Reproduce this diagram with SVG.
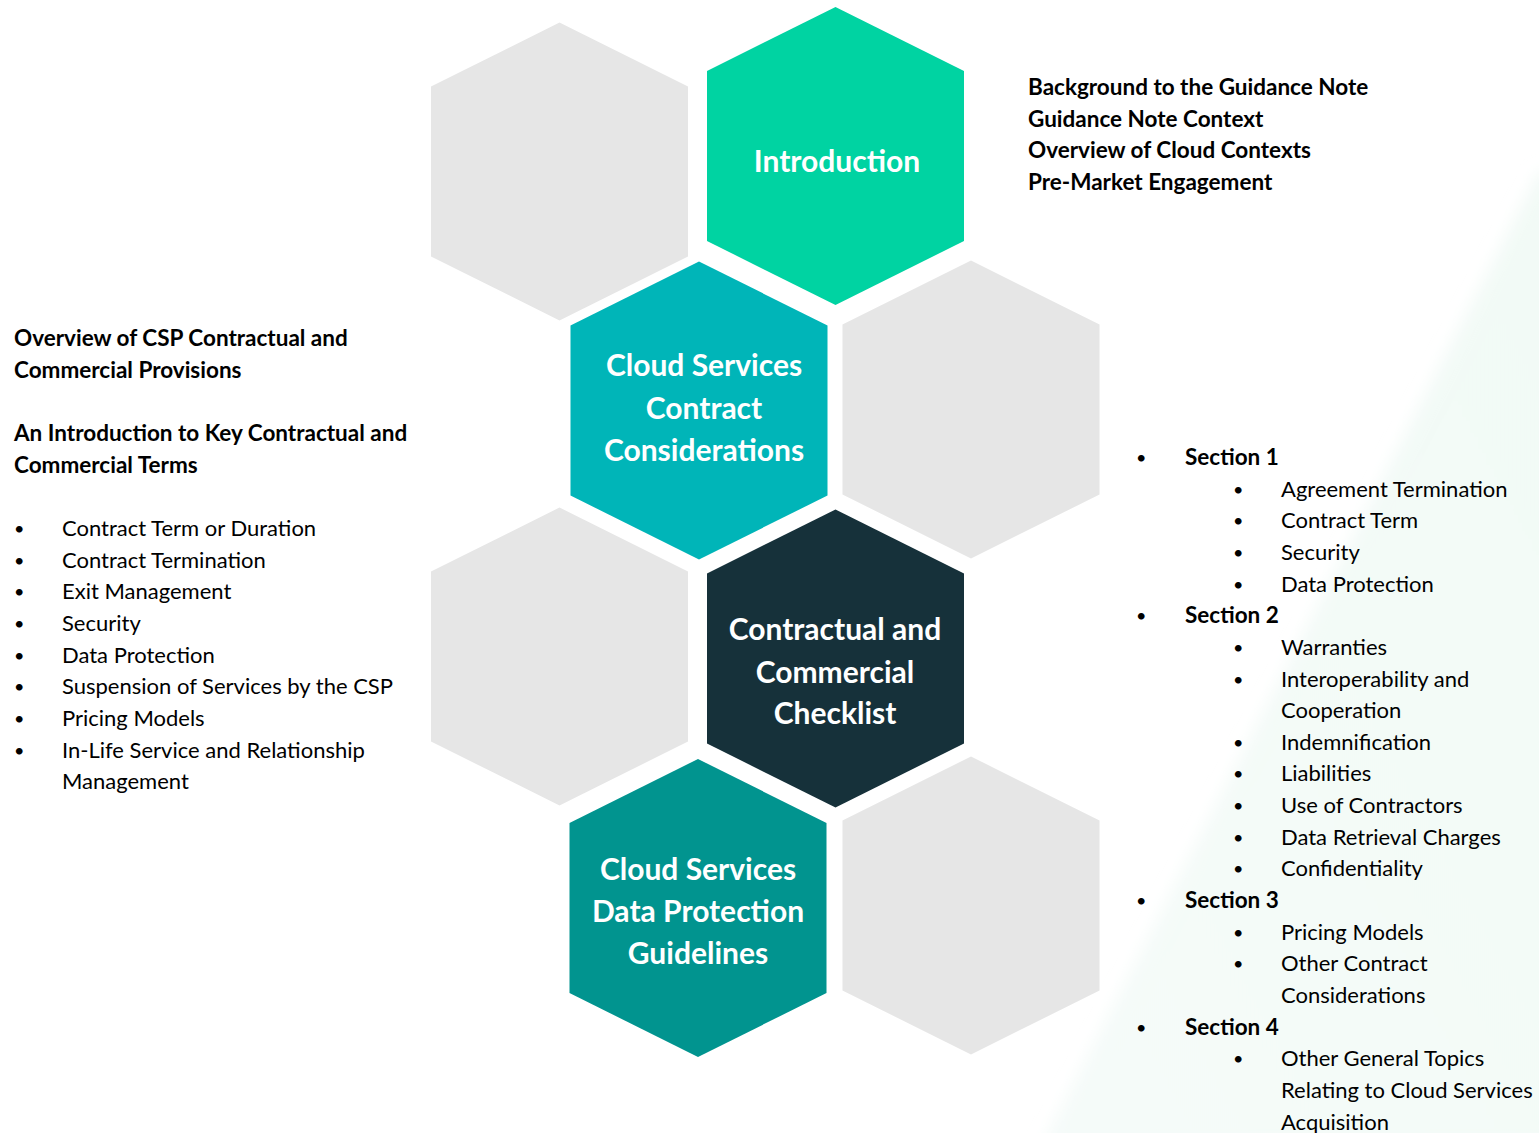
<svg xmlns="http://www.w3.org/2000/svg" width="1539" height="1133" viewBox="0 0 1539 1133">
  <defs>
    <!-- pointy-top hexagon, 257 wide and 298 tall, centred on the origin -->
    <polygon id="hex" points="0,-149 128.5,-85 128.5,85 0,149 -128.5,85 -128.5,-85"/>
    <filter id="soft" x="-10%" y="-10%" width="120%" height="120%">
      <feGaussianBlur stdDeviation="8"/>
    </filter>
    <linearGradient id="tint" x1="0" y1="1" x2="1" y2="0">
      <stop offset="0" stop-color="#f5fbf9"/>
      <stop offset="1" stop-color="#f2faf6"/>
    </linearGradient>
    <style>
      .hex-grey { fill: #e6e6e6; }
      .hex-intro { fill: #00d3a2; }
      .hex-contract { fill: #00b5b8; }
      .hex-checklist { fill: #16313a; }
      .hex-dp { fill: #01948f; }
      .label { font-family: Lato, "Liberation Sans", sans-serif; font-weight: 700; font-size: 30px; fill: #ffffff; text-anchor: middle; }
      .txt { font-family: Lato, "Liberation Sans", sans-serif; font-size: 22px; fill: #000000; }
      .b { font-weight: 700; font-size: 22.5px; }
      .dot { font-size: 18px; }
    </style>
  </defs>

  <rect width="1539" height="1133" fill="#ffffff"/>
  <!-- faint mint wash in the lower right corner -->
  <polygon points="1040,1150 1560,1150 1560,172 1539,172" fill="url(#tint)" filter="url(#soft)"/>

  <!-- connectors: none in this layout -->
  <g id="connectors"/>

  <!-- decorative grey cells -->
  <g id="hex-grey-1"><use href="#hex" class="hex-grey" transform="translate(559.5,171.5)"/></g>
  <g id="hex-grey-2"><use href="#hex" class="hex-grey" transform="translate(971,409.5)"/></g>
  <g id="hex-grey-3"><use href="#hex" class="hex-grey" transform="translate(559.5,656.5)"/></g>
  <g id="hex-grey-4"><use href="#hex" class="hex-grey" transform="translate(971,905.5)"/></g>

  <!-- section cells -->
  <g id="node-introduction">
    <use href="#hex" class="hex-intro" transform="translate(835.5,156)"/>
    <text class="label" x="837" y="172">Introduction</text>
  </g>
  <g id="node-contract-considerations">
    <use href="#hex" class="hex-contract" transform="translate(699,410.5)"/>
    <text class="label" x="704" y="376">Cloud Services</text>
    <text class="label" x="704" y="419">Contract</text>
    <text class="label" x="704" y="461">Considerations</text>
  </g>
  <g id="node-checklist">
    <use href="#hex" class="hex-checklist" transform="translate(835.5,658.5)"/>
    <text class="label" x="835" y="640">Contractual and</text>
    <text class="label" x="835" y="683">Commercial</text>
    <text class="label" x="835" y="724">Checklist</text>
  </g>
  <g id="node-data-protection">
    <use href="#hex" class="hex-dp" transform="translate(698,908)"/>
    <text class="label" x="698" y="880">Cloud Services</text>
    <text class="label" x="698" y="922">Data Protection</text>
    <text class="label" x="698" y="964">Guidelines</text>
  </g>

  <!-- introduction topics -->
  <g id="list-introduction" class="txt">
    <text class="b" x="1028" y="95">Background to the Guidance Note</text>
    <text class="b" x="1028" y="127">Guidance Note Context</text>
    <text class="b" x="1028" y="158">Overview of Cloud Contexts</text>
    <text class="b" x="1028" y="190">Pre-Market Engagement</text>
  </g>

  <!-- contract considerations topics -->
  <g id="list-contract" class="txt">
    <text class="b" x="14" y="346">Overview of CSP Contractual and</text>
    <text class="b" x="14" y="378">Commercial Provisions</text>
    <text class="b" x="14" y="441">An Introduction to Key Contractual and</text>
    <text class="b" x="14" y="473">Commercial Terms</text>
    <g>
      <text class="dot" x="14" y="535">•</text><text x="62" y="536">Contract Term or Duration</text>
      <text class="dot" x="14" y="567">•</text><text x="62" y="568">Contract Termination</text>
      <text class="dot" x="14" y="598">•</text><text x="62" y="599">Exit Management</text>
      <text class="dot" x="14" y="630">•</text><text x="62" y="631">Security</text>
      <text class="dot" x="14" y="662">•</text><text x="62" y="663">Data Protection</text>
      <text class="dot" x="14" y="693">•</text><text x="62" y="694">Suspension of Services by the CSP</text>
      <text class="dot" x="14" y="725">•</text><text x="62" y="726">Pricing Models</text>
      <text class="dot" x="14" y="757">•</text><text x="62" y="758">In-Life Service and Relationship</text>
      <text x="62" y="789">Management</text>
    </g>
  </g>

  <!-- checklist sections -->
  <g id="list-checklist" class="txt">
    <text class="dot" x="1136" y="464">•</text><text class="b" x="1185" y="465">Section 1</text>
    <text class="dot" x="1233" y="496">•</text><text x="1281" y="497">Agreement Termination</text>
    <text class="dot" x="1233" y="527">•</text><text x="1281" y="528">Contract Term</text>
    <text class="dot" x="1233" y="559">•</text><text x="1281" y="560">Security</text>
    <text class="dot" x="1233" y="591">•</text><text x="1281" y="592">Data Protection</text>
    <text class="dot" x="1136" y="622">•</text><text class="b" x="1185" y="623">Section 2</text>
    <text class="dot" x="1233" y="654">•</text><text x="1281" y="655">Warranties</text>
    <text class="dot" x="1233" y="686">•</text><text x="1281" y="687">Interoperability and</text>
    <text x="1281" y="718">Cooperation</text>
    <text class="dot" x="1233" y="749">•</text><text x="1281" y="750">Indemnification</text>
    <text class="dot" x="1233" y="780">•</text><text x="1281" y="781">Liabilities</text>
    <text class="dot" x="1233" y="812">•</text><text x="1281" y="813">Use of Contractors</text>
    <text class="dot" x="1233" y="844">•</text><text x="1281" y="845">Data Retrieval Charges</text>
    <text class="dot" x="1233" y="875">•</text><text x="1281" y="876">Confidentiality</text>
    <text class="dot" x="1136" y="907">•</text><text class="b" x="1185" y="908">Section 3</text>
    <text class="dot" x="1233" y="939">•</text><text x="1281" y="940">Pricing Models</text>
    <text class="dot" x="1233" y="970">•</text><text x="1281" y="971">Other Contract</text>
    <text x="1281" y="1003">Considerations</text>
    <text class="dot" x="1136" y="1034">•</text><text class="b" x="1185" y="1035">Section 4</text>
    <text class="dot" x="1233" y="1065">•</text><text x="1281" y="1066">Other General Topics</text>
    <text x="1281" y="1098">Relating to Cloud Services</text>
    <text x="1281" y="1130">Acquisition</text>
  </g>
</svg>
